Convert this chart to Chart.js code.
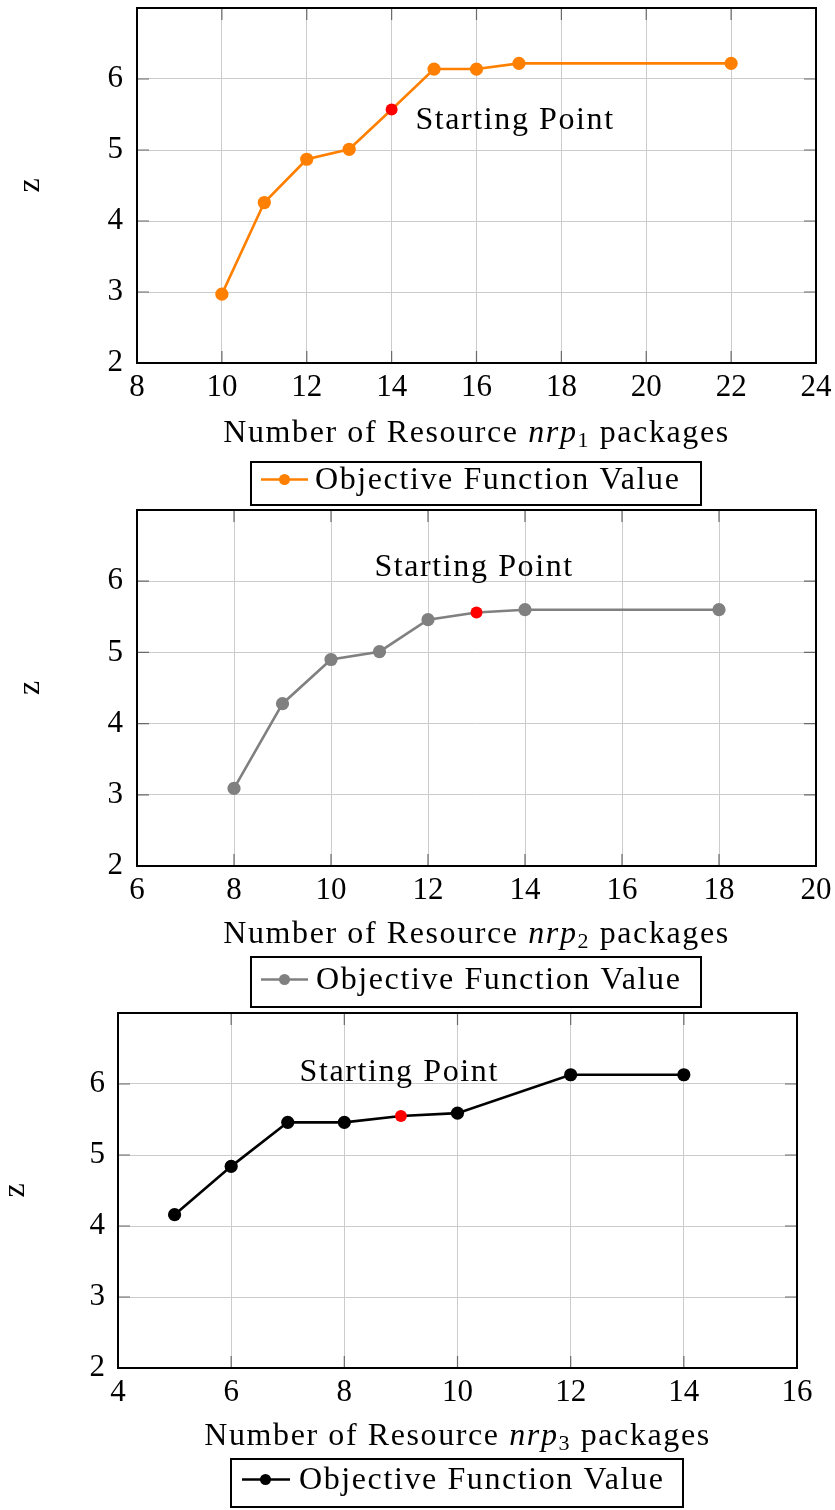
<!DOCTYPE html>
<html><head><meta charset="utf-8">
<script src="https://cdn.jsdelivr.net/npm/chart.js@4.4.1/dist/chart.umd.min.js"></script>
<style>
html,body{margin:0;padding:0;background:#fff;}
body{width:835px;height:1510px;position:relative;overflow:hidden;}
canvas{position:absolute;left:0;}
</style></head><body>
<canvas id="c1"></canvas><canvas id="c2"></canvas><canvas id="c3"></canvas>
<script>
// ---------- data ----------
const packages1 = [10, 11, 12, 13, 14, 15, 16, 17, 22];
const objective1 = [2.97, 4.26, 4.87, 5.01, 5.57, 6.14, 6.14, 6.22, 6.22];
const start1 = 14;
const xTicks1 = [8, 10, 12, 14, 16, 18, 20, 22, 24];

const packages2 = [8, 9, 10, 11, 12, 13, 14, 18];
const objective2 = [3.09, 4.28, 4.90, 5.01, 5.46, 5.56, 5.60, 5.60];
const start2 = 13;
const xTicks2 = [6, 8, 10, 12, 14, 16, 18, 20];

const packages3 = [5, 6, 7, 8, 9, 10, 12, 14];
const objective3 = [4.16, 4.84, 5.46, 5.46, 5.55, 5.59, 6.13, 6.13];
const start3 = 9;
const xTicks3 = [4, 6, 8, 10, 12, 14, 16];

const yTicks = [2, 3, 4, 5, 6];
const yMin = 2, yMax = 7;

// ---------- text ----------
const xTitleHead = 'Number of Resource ';
const xTitleVar = 'nrp';
const xTitleSubs = ['1', '2', '3'];
const xTitleTail = ' packages';
const yTitle = 'z';
const legendLabel = 'Objective Function Value';
const startLabel = 'Starting Point';

// ---------- styling / layout ----------
const seriesColors = ['#ff8000', '#808080', '#000000'];
const startColor = '#ff0000';
const FONT = "'Liberation Serif', 'Times New Roman', serif";
const SPACING = 1.6;

const layouts = [
  {canvasTop: 0, canvasH: 508, plot: {l: 137, r: 816, t: 8, b: 363}, yTickPad: 14, yTitlePad: 15, titleBaseline: 442,
   legend: {l: 251, t: 462, r: 701, b: 505, lx1: 261, lx2: 308, dotX: 284.5, lineY: 479.5, textX: 315, baseline: 488.5},
   label: {x: 14.56, y: 5.30, align: 'left'}},
  {canvasTop: 508, canvasH: 500, plot: {l: 137, r: 816, t: 510, b: 866}, yTickPad: 14, yTitlePad: 15, titleBaseline: 943,
   legend: {l: 251, t: 957, r: 701, b: 1007, lx1: 261, lx2: 308, dotX: 284.5, lineY: 979.5, textX: 316, baseline: 988.5},
   label: {x: 12.95, y: 6.08, align: 'center'}},
  {canvasTop: 1008, canvasH: 502, plot: {l: 118, r: 797, t: 1013, b: 1368}, yTickPad: 13, yTitlePad: 0, titleBaseline: 1445,
   legend: {l: 231, t: 1459, r: 683, b: 1507, lx1: 242, lx2: 290, dotX: 265.5, lineY: 1479.5, textX: 299, baseline: 1488.5},
   label: {x: 8.97, y: 6.04, align: 'center'}}
];

function drawRuns(ctx, runs, x, y, align) {
  ctx.save();
  if ('letterSpacing' in ctx) ctx.letterSpacing = SPACING + 'px';
  ctx.textBaseline = 'alphabetic';
  ctx.textAlign = 'left';
  ctx.fillStyle = '#000';
  const fontOf = r => (r.italic ? 'italic ' : '') + r.size + 'px ' + FONT;
  let total = 0;
  const w = runs.map(r => { ctx.font = fontOf(r); const m = ctx.measureText(r.t).width; total += m; return m; });
  let cx = align === 'center' ? x - total / 2 : x;
  runs.forEach((r, i) => { ctx.font = fontOf(r); ctx.fillText(r.t, cx, y + (r.dy || 0)); cx += w[i]; });
  ctx.restore();
}

const pageDecor = {
  id: 'pageDecor',
  beforeDatasetsDraw(chart, args, o) {
    const ctx = chart.ctx, a = chart.chartArea, xs = chart.scales.x, ys = chart.scales.y;
    ctx.save();
    ctx.strokeStyle = '#6a6a6a';
    ctx.lineWidth = 1.2;
    ctx.beginPath();
    const len = 12;
    xs.ticks.forEach(t => {
      if (t.value <= xs.min || t.value >= xs.max) return;
      const p = xs.getPixelForValue(t.value);
      ctx.moveTo(p, a.bottom); ctx.lineTo(p, a.bottom - len);
      ctx.moveTo(p, a.top); ctx.lineTo(p, a.top + len);
    });
    ys.ticks.forEach(t => {
      if (t.value <= ys.min || t.value >= ys.max) return;
      const p = ys.getPixelForValue(t.value);
      ctx.moveTo(a.left, p); ctx.lineTo(a.left + len, p);
      ctx.moveTo(a.right, p); ctx.lineTo(a.right - len, p);
    });
    ctx.stroke();
    ctx.lineWidth = 2;
    ctx.strokeStyle = '#000';
    ctx.strokeRect(a.left, a.top, a.right - a.left, a.bottom - a.top);
    ctx.restore();
  },
  afterDraw(chart, args, o) {
    const ctx = chart.ctx, a = chart.chartArea, L = o.layout, off = L.canvasTop;
    drawRuns(ctx, [
      {t: xTitleHead, size: 32},
      {t: xTitleVar, size: 32, italic: true},
      {t: o.sub, size: 22, dy: 5},
      {t: xTitleTail, size: 32}
    ], (a.left + a.right) / 2, L.titleBaseline - off, 'center');
    const lx = chart.scales.x.getPixelForValue(L.label.x);
    const ly = chart.scales.y.getPixelForValue(L.label.y);
    drawRuns(ctx, [{t: startLabel, size: 32}], lx, ly, L.label.align);
    const g = L.legend;
    ctx.save();
    ctx.fillStyle = '#fff';
    ctx.fillRect(g.l, g.t - off, g.r - g.l, g.b - g.t);
    ctx.lineWidth = 2;
    ctx.strokeStyle = '#000';
    ctx.strokeRect(g.l, g.t - off, g.r - g.l, g.b - g.t);
    ctx.strokeStyle = o.color;
    ctx.lineWidth = 2.6;
    ctx.beginPath();
    ctx.moveTo(g.lx1, g.lineY - off); ctx.lineTo(g.lx2, g.lineY - off);
    ctx.stroke();
    ctx.fillStyle = o.color;
    ctx.beginPath();
    ctx.arc(g.dotX, g.lineY - off, 5.5, 0, Math.PI * 2);
    ctx.fill();
    ctx.restore();
    drawRuns(ctx, [{t: legendLabel, size: 32}], g.textX, g.baseline - off, 'left');
  }
};

function makeChart(id, idx, xsArr, ysArr, startX, xTicks) {
  const L = layouts[idx];
  const color = seriesColors[idx];
  const cv = document.getElementById(id);
  cv.width = 835; cv.height = L.canvasH;
  cv.style.top = L.canvasTop + 'px';
  cv.style.width = '835px'; cv.style.height = L.canvasH + 'px';
  const plotTopLocal = L.plot.t - L.canvasTop;
  const plotBottomLocal = L.plot.b - L.canvasTop;
  return new Chart(cv, {
    type: 'line',
    data: {
      datasets: [{
        label: legendLabel,
        data: xsArr.map((x, i) => ({x: x, y: ysArr[i]})),
        borderColor: color,
        borderWidth: 2.6,
        pointBackgroundColor: xsArr.map(x => x === startX ? startColor : color),
        pointBorderColor: xsArr.map(x => x === startX ? startColor : color),
        pointBorderWidth: 0,
        pointRadius: xsArr.map(x => x === startX ? 6 : 6.6),
        tension: 0,
        fill: false
      }]
    },
    options: {
      responsive: false,
      animation: false,
      devicePixelRatio: 1,
      events: [],
      layout: {padding: {left: 0, right: 835 - L.plot.r, top: plotTopLocal, bottom: 0}, autoPadding: false},
      plugins: {
        legend: {display: false},
        tooltip: {enabled: false},
        pageDecor: {layout: L, color: color, sub: xTitleSubs[idx]}
      },
      scales: {
        x: {
          type: 'linear',
          min: xTicks[0], max: xTicks[xTicks.length - 1],
          afterBuildTicks: s => { s.ticks = xTicks.map(v => ({value: v})); },
          afterFit: s => { s.height = L.canvasH - plotBottomLocal; s.paddingLeft = 0; s.paddingRight = 0; },
          grid: {color: '#cccccc', lineWidth: 1, drawTicks: false},
          border: {display: false},
          ticks: {padding: 6, color: '#000', autoSkip: false, maxRotation: 0, font: {family: FONT, size: 31, lineHeight: 1.2}}
        },
        y: {
          type: 'linear',
          min: yMin, max: yMax,
          afterBuildTicks: s => { s.ticks = yTicks.map(v => ({value: v})); },
          afterFit: s => { s.width = L.plot.l; s.paddingTop = 0; s.paddingBottom = 0; },
          grid: {color: '#cccccc', lineWidth: 1, drawTicks: false},
          border: {display: false},
          ticks: {padding: L.yTickPad, color: '#000', font: {family: FONT, size: 31, lineHeight: 1.2}},
          title: {display: true, text: yTitle, color: '#000', font: {family: FONT, size: 32, lineHeight: 1}, padding: {top: L.yTitlePad, bottom: 0}}
        }
      }
    },
    plugins: [pageDecor]
  });
}

makeChart('c1', 0, packages1, objective1, start1, xTicks1);
makeChart('c2', 1, packages2, objective2, start2, xTicks2);
makeChart('c3', 2, packages3, objective3, start3, xTicks3);
</script>
</body></html>
